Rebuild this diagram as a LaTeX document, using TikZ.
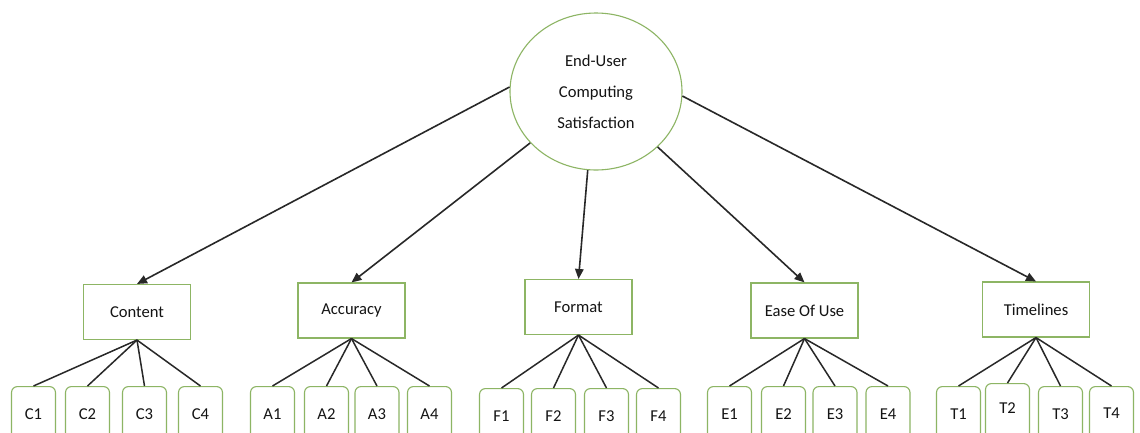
\documentclass[tikz,border=0pt]{standalone}
\usepackage{fontspec}
\setmainfont{Carlito}
\usetikzlibrary{shapes.geometric,arrows.meta}
\definecolor{boxgreen}{HTML}{8DB564}
\definecolor{linegray}{HTML}{282828}
\tikzset{
  lbl/.style={font=\fontsize{16.6}{31}\selectfont, text=black!92},
  topnode/.style={ellipse, draw=boxgreen, line width=1.1pt, fill=white, minimum width=172pt, minimum height=157pt, inner sep=0pt, align=center, lbl},
  midbox/.style={rectangle, draw=boxgreen, line width=1.1pt, fill=white, minimum width=107pt, minimum height=55pt, inner sep=0pt, lbl},
  leafbox/.style={rectangle, rounded corners=6pt, draw=boxgreen, line width=1.1pt, fill=white, minimum width=44pt, minimum height=58pt, inner sep=0pt, lbl},
  leafline/.style={draw=linegray, line width=1.5pt},
  arr/.style={draw=linegray, line width=1.6pt, -{Triangle[length=10pt,width=8.5pt]}},
  leaflbl/.style={lbl, anchor=center}
}
\begin{document}
\begin{tikzpicture}[x=1pt,y=-1pt]
\clip (0,0) rectangle (1140,432);
\fill[white] (0,0) rectangle (1140,432);
\node[topnode] (root) at (596,91.5) {End-User\\Computing\\Satisfaction};
\node[midbox] (con) at (137,312) {Content};
\node[midbox] (acc) at (351.5,310.5) {Accuracy};
\node[midbox] (fmt) at (578.5,307) {Format};
\node[midbox] (eou) at (804.5,310.5) {Ease Of Use};
\node[midbox] (tim) at (1036,309.5) {Timelines};
% arrows
\draw[arr] (root.177) -- (con.north);
\draw[arr] (root.218) -- (acc.north);
\draw[arr] (root.264) -- (fmt.north);
\draw[arr] (root.318) -- (eou.north);
\draw[arr] (root.357) -- (tim.north);
% leaves
\foreach \n/\x/\t in {c1/33.5/C1, c2/87.5/C2, c3/144.5/C3, c4/200.5/C4}{
  \node[leafbox, anchor=north] (\n) at (\x,386) {};
  \node[leaflbl] (\n t) at (\x,414) {\t};
  \draw[leafline] (con.south) -- (\n.north);
}
\foreach \n/\x/\t in {a1/272.5/A1, a2/326.5/A2, a3/377/A3, a4/429.5/A4}{
  \node[leafbox, anchor=north] (\n) at (\x,386) {};
  \node[leaflbl] (\n t) at (\x,414) {\t};
  \draw[leafline] (acc.south) -- (\n.north);
}
\foreach \n/\x/\t in {f1/501.5/F1, f2/553.5/F2, f3/606.5/F3, f4/658.5/F4}{
  \node[leafbox, anchor=north] (\n) at (\x,388) {};
  \node[leaflbl] (\n t) at (\x,416) {\t};
  \draw[leafline] (fmt.south) -- (\n.north);
}
\foreach \n/\x/\t in {e1/729.5/E1, e2/783.5/E2, e3/835/E3, e4/888/E4}{
  \node[leafbox, anchor=north] (\n) at (\x,386) {};
  \node[leaflbl] (\n t) at (\x,414) {\t};
  \draw[leafline] (eou.south) -- (\n.north);
}
\node[leafbox, anchor=north] (t1) at (958.5,386) {};
\node[leaflbl] (t1t) at (958.5,414) {T1};
\node[leafbox, anchor=north] (t2) at (1007.5,383) {};
\node[leaflbl] (t2t) at (1007.5,408) {T2};
\node[leafbox, anchor=north] (t3) at (1060.5,386) {};
\node[leaflbl] (t3t) at (1060.5,414) {T3};
\node[leafbox, anchor=north] (t4) at (1111.5,386) {};
\node[leaflbl] (t4t) at (1111.5,413) {T4};
\foreach \n in {t1,t2,t3,t4}{
  \draw[leafline] (tim.south) -- (\n.north);
}
\end{tikzpicture}
\end{document}
